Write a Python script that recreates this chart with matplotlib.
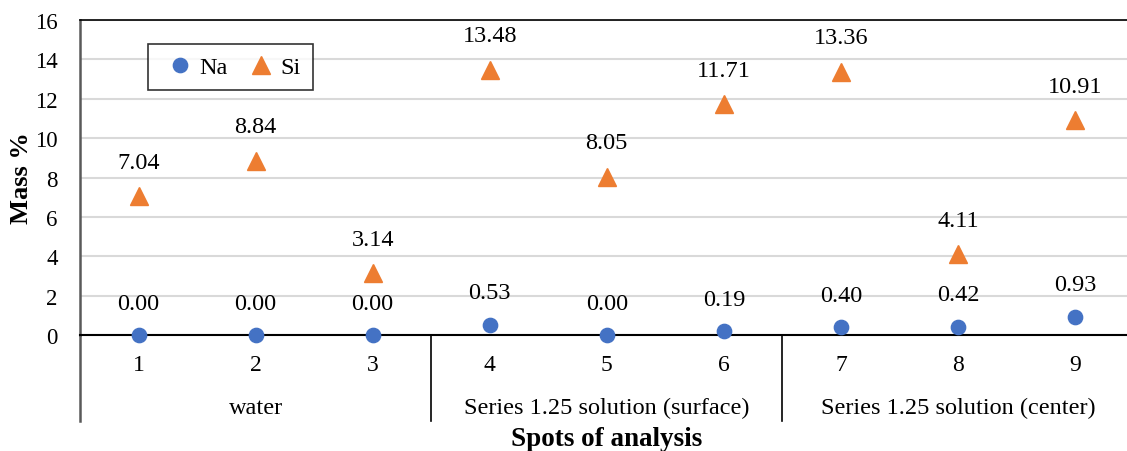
import matplotlib.pyplot as plt
from matplotlib.lines import Line2D

plt.rcParams['font.family'] = ['Liberation Serif', 'DejaVu Serif']

# measurement spots and element content (mass %)
spots = ['1', '2', '3', '4', '5', '6', '7', '8', '9']
na = [0.00, 0.00, 0.00, 0.53, 0.00, 0.19, 0.40, 0.42, 0.93]
si = [7.04, 8.84, 3.14, 13.48, 8.05, 11.71, 13.36, 4.11, 10.91]
groups = ['water', 'Series 1.25 solution (surface)', 'Series 1.25 solution (center)']
group_size = 3

na_color = '#4472C4'
si_color = '#ED7D31'

fig = plt.figure(figsize=(11.27, 4.52), dpi=100)
ax = fig.add_axes([0.0710, 0.2566, 0.9348, 0.6969])

x = list(range(len(spots)))
ax.plot(x, na, 'o', color=na_color, markersize=10.3, label='Na', zorder=3, clip_on=False)
ax.plot(x, si, '^', color=si_color, markersize=13, label='Si', zorder=3, clip_on=False)

for xi, v in zip(x, na):
    ax.annotate(f'{v:.2f}', (xi, v), xytext=(0, 23), textcoords='offset points',
                ha='center', va='center', fontsize=17.5)
for xi, v in zip(x, si):
    ax.annotate(f'{v:.2f}', (xi, v), xytext=(0, 24.5), textcoords='offset points',
                ha='center', va='center', fontsize=17.5)

ax.set_xlim(-0.5, len(spots) - 0.5)
ax.set_ylim(0, 16)
ax.set_yticks(range(0, 17, 2))
ax.tick_params(axis='y', length=0, pad=16, labelsize=16.5)
ax.set_xticks(x)
ax.set_xticklabels(spots)
ax.tick_params(axis='x', length=0, pad=14, labelsize=17)
ax.grid(axis='y', color='#D9D9D9', linewidth=1.5)
ax.set_axisbelow(True)

ax.spines['right'].set_visible(False)
ax.spines['top'].set_color('black')
ax.spines['top'].set_linewidth(1.2)
ax.spines['bottom'].set_color('black')
ax.spines['bottom'].set_linewidth(1.5)
ax.spines['left'].set_color('#595959')
ax.spines['left'].set_linewidth(1.8)

# group brackets below the axis
depth = -0.273
trans = ax.get_xaxis_transform()
ax.add_line(Line2D([-0.5, -0.5], [0, depth], transform=trans, color='#595959',
                   linewidth=1.8, clip_on=False))
for g in range(1, len(groups) + 1):
    xb = g * group_size - 0.5
    ax.add_line(Line2D([xb, xb], [0, depth], transform=trans, color='black',
                       linewidth=1.2, clip_on=False))
for g, name in enumerate(groups):
    xc = g * group_size + (group_size - 1) / 2
    ax.text(xc, -0.229, name, transform=trans, ha='center', va='center', fontsize=17.5)

ax.set_ylabel('Mass %', fontsize=19, fontweight='bold')
ax.yaxis.set_label_coords(-0.045, 0.5)
ax.text(0.5, -0.327, 'Spots of analysis', transform=ax.transAxes, ha='center',
        va='center', fontsize=19.5, fontweight='bold')

leg = ax.legend(loc='upper left', bbox_to_anchor=(0.0645, 0.924), ncol=2,
                fontsize=17.5, frameon=True, fancybox=False, handletextpad=0.0,
                columnspacing=0.6, borderpad=0.5, handlelength=1.6,
                borderaxespad=0)
leg.get_frame().set_edgecolor('black')
leg.get_frame().set_linewidth(1.2)

fig.savefig('out.png', dpi=100)
